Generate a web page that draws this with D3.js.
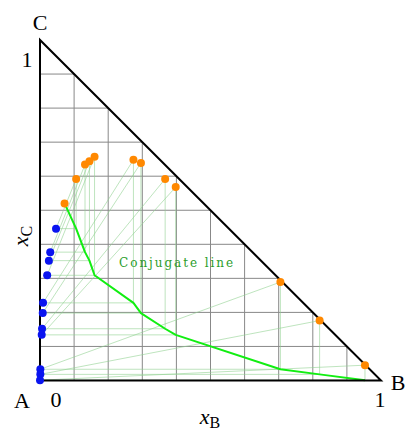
<!DOCTYPE html>
<html>
<head>
<meta charset="utf-8">
<script src="https://cdn.jsdelivr.net/npm/d3@7"></script>
<style>
  html, body { margin: 0; padding: 0; background: #fff; }
  svg { display: block; }
  text { font-family: "Liberation Serif", "DejaVu Serif", serif; fill: #000; }
</style>
</head>
<body>
<svg id="chart" width="407" height="433"></svg>
<script>
// Plait point on the binodal curve
const plaitPoint = { xB: 0.072, xC: 0.520 };

// Raffinate-side phase compositions (blue), ordered by decreasing xC
const raffinateXB = [0.047, 0.030, 0.026, 0.021, 0.009, 0.008, 0.006, 0.005, 0.001, 0.001, 0.000];
const raffinateXC = [0.446, 0.377, 0.352, 0.309, 0.228, 0.198, 0.152, 0.134, 0.033, 0.018, 0.001];

// Extract-side phase compositions (orange), paired by index with the raffinate points
const extractXB = [0.106, 0.132, 0.145, 0.160, 0.274, 0.296, 0.367, 0.398, 0.705, 0.820, 0.953];
const extractXC = [0.592, 0.634, 0.644, 0.657, 0.648, 0.639, 0.592, 0.568, 0.289, 0.176, 0.045];

// Grid fractions and tick labels
const gridValues = [0.1, 0.2, 0.3, 0.4, 0.5, 0.6, 0.7, 0.8, 0.9];
const xTickLabels = ["0", "1"];
const yTickLabels = ["1"];

const svg = d3.select("#chart");
const x = d3.scaleLinear().domain([0, 1]).range([40, 381]);
const y = d3.scaleLinear().domain([0, 1]).range([380.5, 40]);

const raffinate = raffinateXB.map((b, i) => ({ xB: b, xC: raffinateXC[i] }));
const extract = extractXB.map((b, i) => ({ xB: b, xC: extractXC[i] }));
// Conjugate points: xB of the extract phase with xC of the raffinate phase
const conjugate = [plaitPoint].concat(extract.map((e, i) => ({ xB: e.xB, xC: raffinate[i].xC })));

// Grid lines clipped to the triangle
const grid = svg.append("g").attr("stroke", "#888").attr("stroke-width", 1);
gridValues.forEach(v => {
  grid.append("line").attr("x1", x(v)).attr("y1", y(0)).attr("x2", x(v)).attr("y2", y(1 - v));
  grid.append("line").attr("x1", x(0)).attr("y1", y(v)).attr("x2", x(1 - v)).attr("y2", y(v));
});

// Tie lines and construction lines
const thin = svg.append("g").attr("stroke", "#8fd18f").attr("stroke-opacity", 0.65).attr("stroke-width", 0.9);
raffinate.forEach((r, i) => {
  const e = extract[i];
  const c = conjugate[i + 1];
  thin.append("line").attr("x1", x(r.xB)).attr("y1", y(r.xC)).attr("x2", x(e.xB)).attr("y2", y(e.xC));
  thin.append("line").attr("x1", x(r.xB)).attr("y1", y(r.xC)).attr("x2", x(c.xB)).attr("y2", y(c.xC));
  thin.append("line").attr("x1", x(e.xB)).attr("y1", y(e.xC)).attr("x2", x(c.xB)).attr("y2", y(c.xC));
});

// Conjugate line
const line = d3.line().x(d => x(d.xB)).y(d => y(d.xC));
svg.append("path").datum(conjugate)
  .attr("d", line).attr("fill", "none")
  .attr("stroke", "#11ee11").attr("stroke-width", 2).attr("stroke-linejoin", "round");

svg.append("text")
  .attr("x", x(0.232)).attr("y", y(0.333))
  .attr("font-size", 12).style("font-family", "'DejaVu Serif', serif").style("fill", "#2a9d2a")
  .attr("textLength", 114).attr("lengthAdjust", "spacing")
  .text("Conjugate line");

// Triangle outline
svg.append("path")
  .attr("d", line([{ xB: 0, xC: 0 }, { xB: 1, xC: 0 }, { xB: 0, xC: 1 }]) + "Z")
  .attr("fill", "none").attr("stroke", "#000").attr("stroke-width", 2).attr("stroke-linejoin", "miter");

// Phase points
svg.append("g").selectAll("circle").data(raffinate).join("circle")
  .attr("cx", d => x(d.xB)).attr("cy", d => y(d.xC)).attr("r", 4)
  .attr("fill", "#0a14f0");
svg.append("g").selectAll("circle").data([plaitPoint].concat(extract)).join("circle")
  .attr("cx", d => x(d.xB)).attr("cy", d => y(d.xC)).attr("r", 4)
  .attr("fill", "#ff8800");

// Vertex labels
const fs = 22;
svg.append("text").attr("x", x(0)).attr("y", 30).attr("text-anchor", "middle").attr("font-size", fs).text("C");
svg.append("text").attr("x", 22).attr("y", 408).attr("text-anchor", "middle").attr("font-size", fs).text("A");
svg.append("text").attr("x", 398).attr("y", 390).attr("text-anchor", "middle").attr("font-size", fs).text("B");

// Tick labels
svg.append("text").attr("x", 56).attr("y", 407).attr("text-anchor", "middle").attr("font-size", fs).text(xTickLabels[0]);
svg.append("text").attr("x", x(1) - 1).attr("y", 407).attr("text-anchor", "middle").attr("font-size", fs).text(xTickLabels[1]);
svg.append("text").attr("x", 27).attr("y", 67).attr("text-anchor", "middle").attr("font-size", fs).text(yTickLabels[0]);

// Axis titles
const xt = svg.append("text").attr("x", 210).attr("y", 424).attr("text-anchor", "middle").attr("font-size", fs);
xt.append("tspan").attr("font-style", "italic").text("x");
xt.append("tspan").attr("font-size", 16).attr("dy", 4).text("B");

const yt = svg.append("text").attr("transform", "translate(28,236) rotate(-90)").attr("text-anchor", "middle").attr("font-size", fs);
yt.append("tspan").attr("font-style", "italic").text("x");
yt.append("tspan").attr("font-size", 16).attr("dy", 4).text("C");
</script>
</body>
</html>
